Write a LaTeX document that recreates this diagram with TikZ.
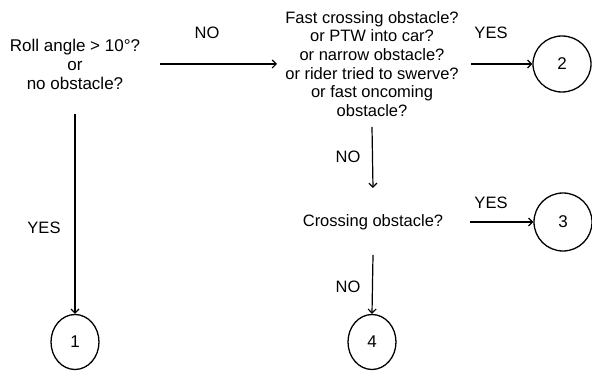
\documentclass[tikz,border=0pt]{standalone}
\usepackage{fontspec}
\setmainfont{Liberation Sans}
\usetikzlibrary{arrows.meta,shapes.geometric}
\begin{document}
\begin{tikzpicture}[x=1pt,y=-1pt,
  txt/.style={align=center,font=\fontsize{16.5}{18.6}\selectfont,inner sep=0pt},
  lbl/.style={font=\fontsize{16.5}{18}\selectfont,inner sep=0pt},
  endc/.style={draw,ellipse,line width=1.3pt,inner sep=0pt,minimum width=48pt,minimum height=55pt,font=\fontsize{17}{18}\selectfont},
  arr/.style={line width=1.2pt,-{Straight Barb[length=4pt,width=8pt,line width=1.2pt]}}]
\useasboundingbox (0,0) rectangle (592,371);
\node[txt,font=\fontsize{17}{19}\selectfont] (q1) at (75,64) {Roll angle > 10°?\\or\\no obstacle?};
\node[txt] (q2) at (372,64) {Fast crossing obstacle?\\or PTW into car?\\or narrow obstacle?\\or rider tried to swerve?\\or fast oncoming\\obstacle?};
\node[txt] (q3) at (373,222) {Crossing obstacle?};
\node[endc] (c1) at (75,342) {1};
\node[endc] (c4) at (372,342) {4};
\node[endc,minimum width=58pt,minimum height=56pt] (c2) at (562,64) {2};
\node[endc,minimum width=58pt,minimum height=58pt] (c3) at (563,222) {3};
\node[lbl] (l1) at (207,33) {NO};
\node[lbl] (l2) at (491,33) {YES};
\node[lbl] (l3) at (348,157) {NO};
\node[lbl] (l4) at (491,203) {YES};
\node[lbl] (l5) at (348,287) {NO};
\node[lbl] (l6) at (44,228) {YES};
\draw[arr] ([xshift=85pt]q1.center) -- ([xshift=-95pt]q2.center);
\draw[arr] ([xshift=99pt]q2.center) -- (c2.west);
\draw[arr] ([yshift=-50pt]q1.center) -- (c1.north);
\draw[arr] ([yshift=-63pt]q2.center) -- ([yshift=34pt]q3.center);
\draw[arr] ([xshift=97pt]q3.center) -- (c3.west);
\draw[arr] ([yshift=-33pt]q3.center) -- (c4.north);
\end{tikzpicture}
\end{document}
